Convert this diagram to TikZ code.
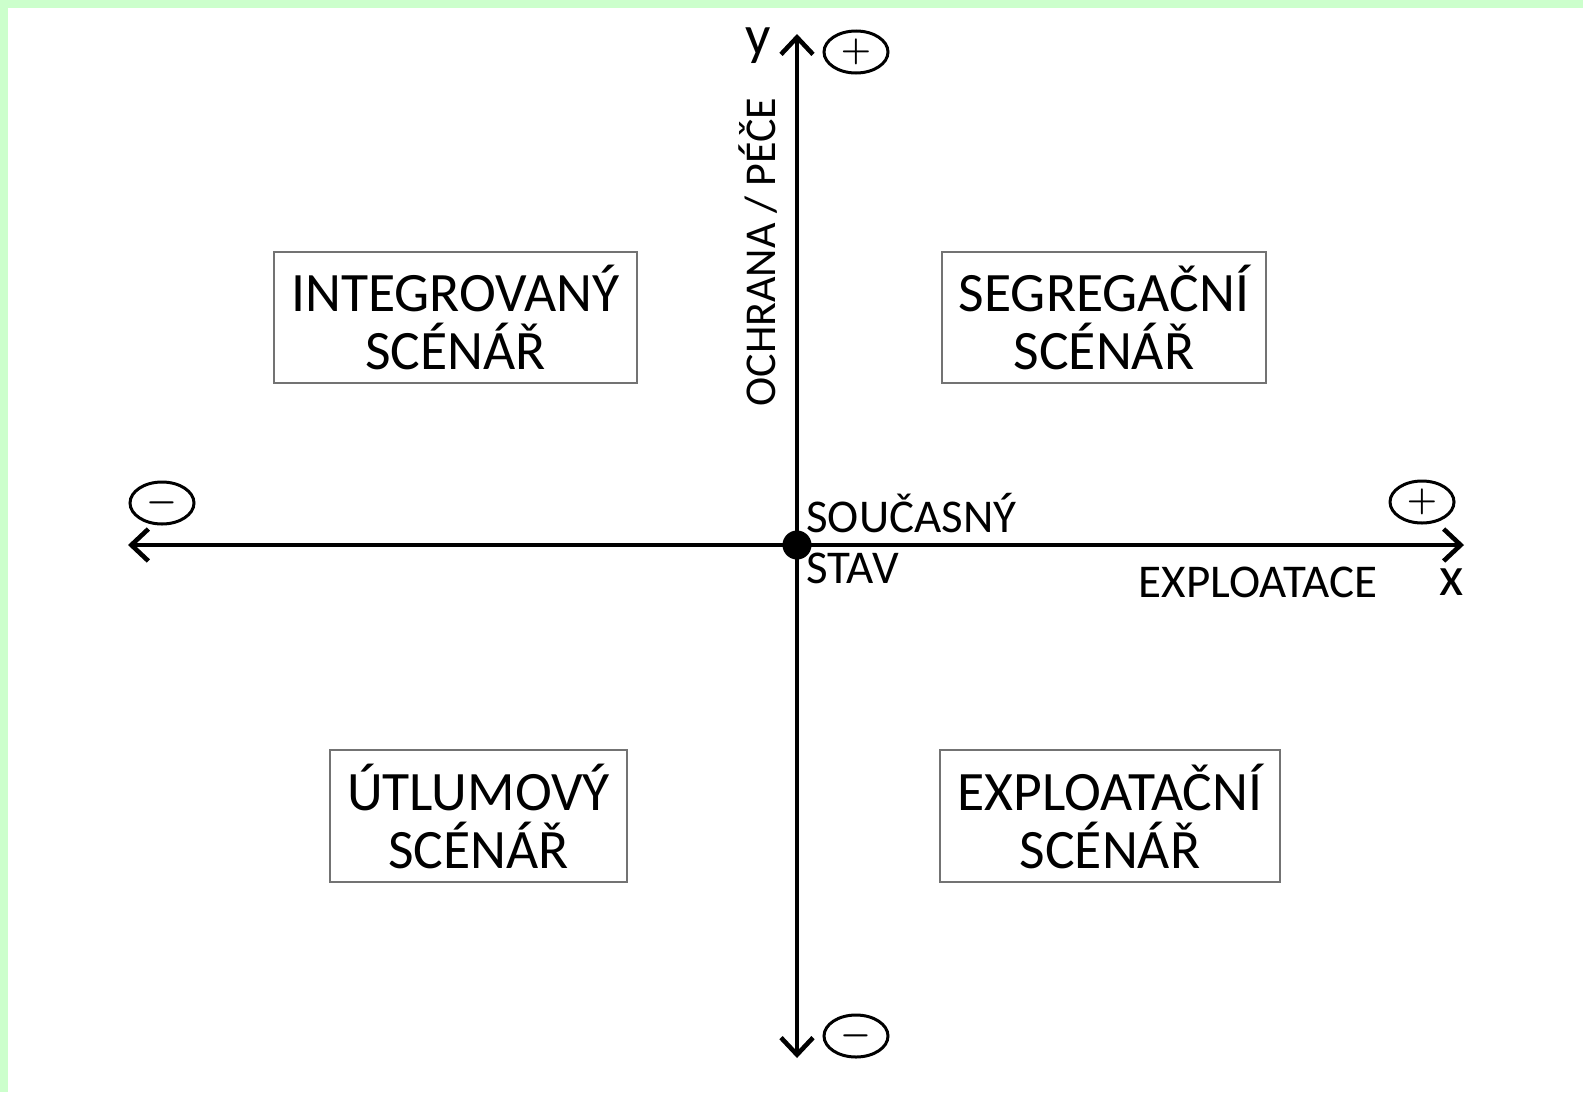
\documentclass[tikz,border=0pt]{standalone}
\usepackage{fontspec}
\setmainfont{Carlito}
\usetikzlibrary{arrows.meta,shapes.geometric}
\definecolor{lightgreen}{HTML}{CCFFCC}
\begin{document}
\begin{tikzpicture}[x=0.5pt,y=-0.5pt,
	axis/.style={line width=2.3pt,{Straight Barb[length=8.5pt,width=16pt]}-{Straight Barb[length=8.5pt,width=16pt]}},
	scenario/.style={draw=black!55,line width=1pt,align=center,inner sep=0pt,font=\fontsize{27.8}{29}\selectfont},
	sign/.style={draw,ellipse,line width=1.5pt,minimum width=32pt,minimum height=21pt,inner sep=0pt,
		label={[inner sep=0pt,font=\fontsize{19}{19}\selectfont\boldmath]center:#1}},
	small/.style={inner sep=0pt,font=\fontsize{23.5}{24}\selectfont},
	letter/.style={inner sep=0pt,font=\fontsize{28}{28}\selectfont}]
		\useasboundingbox (0,0) rectangle (1583,1092);
		\fill[lightgreen] (0,0) rectangle (1583,8);
		\fill[lightgreen] (0,0) rectangle (8,1092);
		\coordinate (l) at (128,545);
		\coordinate (r) at (1464,545);
		\coordinate (t) at (797,34);
		\coordinate (b) at (797,1058);
		\draw[axis] (l) -- (r);
		\draw[axis] (b) -- (t);
		\node[name=o,circle,fill,inner sep=0pt,minimum size=14.5pt]at(797,545){};
		\node[name=yl,letter]at(758,46){y};
		\node[name=xl,letter]at(1452,582){x};
		\node[name=tp,sign=$+$]at(856,52){};
		\node[name=bm,sign=$-$]at(856,1036){};
		\node[name=lm,sign=$-$]at(162,503){};
		\node[name=rp,sign=$+$]at(1422,502){};
		\node[name=oy,small,font=\fontsize{22}{24}\selectfont,rotate=90]at(758,252){OCHRANA / PÉČE};
		\node[name=ox,small,anchor=base]at(1258,597){EXPLOATACE};
		\node[name=now,small,anchor=base west]at(806,532){SOUČASNÝ};
		\node[name=st,small,anchor=base west]at(806,583){STAV};
		\node[name=int,scenario,minimum width=181.5pt,minimum height=65.5pt]at(455.5,317.5){INTEGROVANÝ\\SCÉNÁŘ};
		\node[name=seg,scenario,minimum width=162pt,minimum height=65.5pt]at(1104,317.5){SEGREGAČNÍ\\SCÉNÁŘ};
		\node[name=utl,scenario,minimum width=148.5pt,minimum height=66pt]at(478.5,816){ÚTLUMOVÝ\\SCÉNÁŘ};
		\node[name=exp,scenario,minimum width=170pt,minimum height=66pt]at(1110,816){EXPLOATAČNÍ\\SCÉNÁŘ};
	\end{tikzpicture}
\end{document}
